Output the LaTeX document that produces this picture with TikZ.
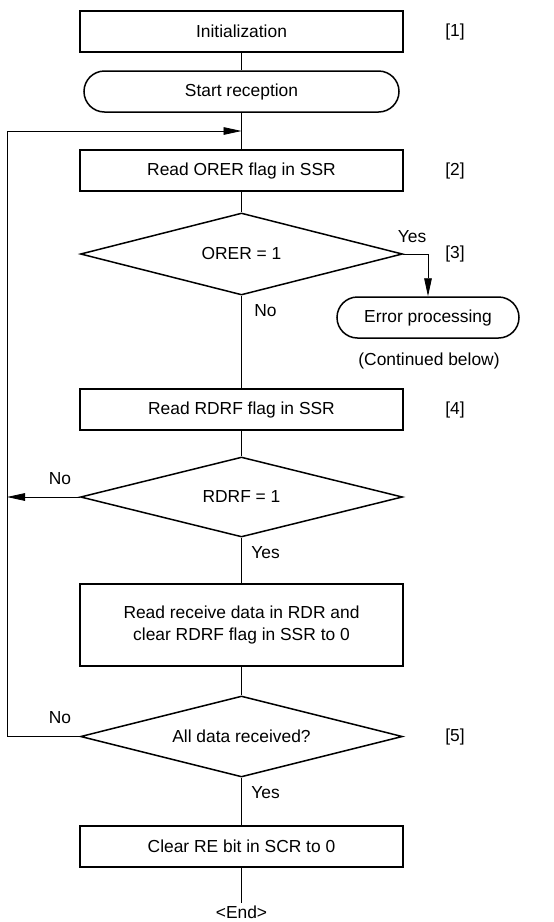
\documentclass[tikz,border=0pt]{standalone}
\usepackage{fontspec}
\setmainfont{Liberation Sans}
\usepackage{tikz}
\usetikzlibrary{shapes.geometric,shapes.misc,arrows.meta}
\newcommand{\chartfont}{\fontsize{8.7}{10.6}\selectfont}
\tikzset{
  procbox/.style = {draw, line width=0.75pt, rectangle, minimum width=161.5pt,
                    minimum height=20.5pt, inner sep=2pt, align=center,
                    font=\chartfont},
  termbox/.style = {procbox, rounded rectangle},
  decbox/.style  = {draw, line width=0.75pt, diamond, aspect=3.9,
                    minimum width=161pt, minimum height=41pt, inner sep=0pt,
                    font=\chartfont},
  link/.style    = {line width=0.4pt},
  flow/.style    = {link, -{Triangle[length=9pt, width=3.8pt]}},
  stepno/.style  = {font=\chartfont},
  brlabel/.style = {font=\chartfont, inner sep=1pt},
}

\begin{document}
\begin{tikzpicture}[x=0.5pt, y=-0.5pt]
    \useasboundingbox (0,0) rectangle (553,922);

    % main column
    \node[procbox] (init) at (241.5,31.5) {Initialization};
    \node[termbox] (start) at (241.5,91.5) {Start reception};
    \coordinate (join) at (241.5,131);
    \node[procbox] (orerread) at (241.5,170.5) {Read ORER flag in SSR};
    \node[decbox] (orer) at (241.5,254) {ORER = 1};
    \node[procbox] (rdrfread) at (241.5,409.5) {Read RDRF flag in SSR};
    \node[decbox, minimum height=40pt] (rdrf) at (241.5,497) {RDRF = 1};
    \node[procbox, minimum height=41pt] (rxdata) at (241.5,625)
      {Read receive data in RDR and\\clear RDRF flag in SSR to 0};
    \node[decbox, minimum height=40.5pt] (alldata) at (241.5,736.5) {All data received?};
    \node[procbox] (clear) at (241.5,846.5) {Clear RE bit in SCR to 0};
    \node[brlabel] (fin) at (241.5,912) {<End>};

    \foreach \a/\b in {init/start, start/orerread, orerread/orer, orer/rdrfread,
                       rdrfread/rdrf, rdrf/rxdata, rxdata/alldata, alldata/clear, clear/fin}
      \draw[link] (\a) -- (\b);

    % error branch
    \node[termbox, minimum width=95pt] (err) at (428,317.5) {Error processing};
    \node[brlabel] (cont) at (429,361) {(Continued below)};
    \draw[flow] (orer.east) -| (err.north);

    % loops back
    \coordinate (rdrfno) at (7,497);
    \coordinate (loopc) at (7,131);
    \draw[flow] (rdrf.west) -- (rdrfno);
    \draw[flow] (alldata.west) -| (loopc) -- (join);

    % branch labels
    \node[brlabel] (orery) at (412,237) {Yes};
    \node[brlabel, anchor=west] (orern) at (252,311) {No};
    \node[brlabel] (rdrfn) at (60,479) {No};
    \node[brlabel, anchor=west] (rdrfy) at (249,553) {Yes};
    \node[brlabel] (alln) at (60,718) {No};
    \node[brlabel, anchor=west] (ally) at (249,793) {Yes};

    % step numbers
    \foreach \yy/\tag in {31.5/1, 170.5/2, 254/3, 410/4, 737/5}
      \node[stepno] (tag\tag) at (455,\yy) {[\tag]};
\end{tikzpicture}
\end{document}
